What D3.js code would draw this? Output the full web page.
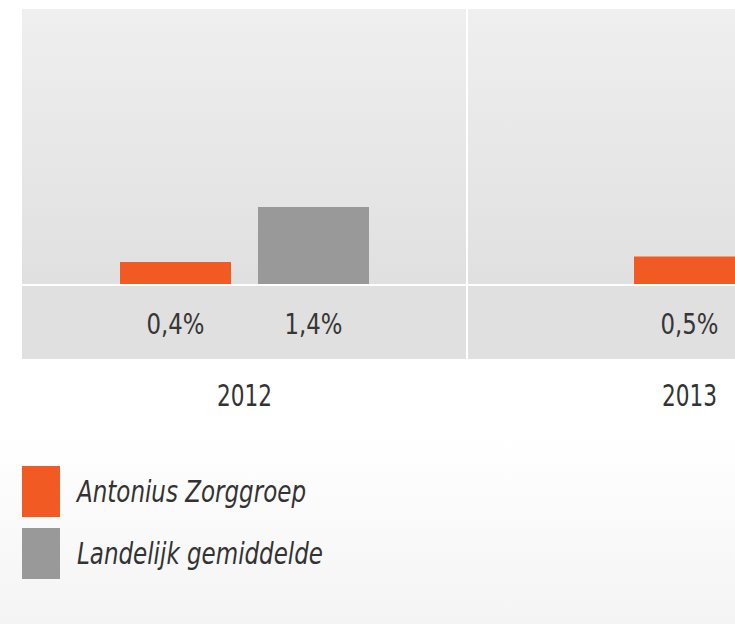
<!DOCTYPE html>
<html>
<head>
<meta charset="utf-8">
<script src="https://cdn.jsdelivr.net/npm/d3@7"></script>
<style>
  html, body { margin: 0; padding: 0; }
  body { width: 735px; height: 624px; overflow: hidden; background: #fff; }
  svg { display: block; }
</style>
</head>
<body>
<svg id="chart" width="735" height="624"></svg>
<script>
// ---- data ----
const years = ["2012", "2013"];
const seriesNames = ["Antonius Zorggroep", "Landelijk gemiddelde"];
const seriesColors = ["#f15a22", "#999999"];
const antonius = [0.4, 0.5];
const landelijk = [1.4, null];
const yDomain = [0, 5];

const seriesValues = [antonius, landelijk];
const fmt = v => d3.format(".1f")(v).replace(".", ",") + "%";

const svg = d3.select("#chart");
const defs = svg.append("defs");

// page background gradient
const pg = defs.append("linearGradient").attr("id", "pageGrad").attr("x1", 0).attr("y1", 0).attr("x2", 0).attr("y2", 1);
pg.append("stop").attr("offset", "0.7").attr("stop-color", "#ffffff");
pg.append("stop").attr("offset", "1").attr("stop-color", "#f4f4f4");
svg.append("rect").attr("width", 735).attr("height", 624).attr("fill", "url(#pageGrad)");

// panel gradient
const gg = defs.append("linearGradient").attr("id", "panelGrad").attr("x1", 0).attr("y1", 0).attr("x2", 0).attr("y2", 1);
gg.append("stop").attr("offset", "0").attr("stop-color", "#efefef");
gg.append("stop").attr("offset", "1").attr("stop-color", "#e0e0e0");

const x = d3.scaleBand().domain(years).range([22, 912]).padding(0);
const y = d3.scaleLinear().domain(yDomain).range([284, 9]);

const plotTop = y(yDomain[1]);
const baseY = y(0);
const bandTop = baseY + 2;
const bandBottom = 359;

// plot panel
svg.append("rect").attr("x", x.range()[0]).attr("y", plotTop)
  .attr("width", x.range()[1] - x.range()[0]).attr("height", baseY - plotTop)
  .attr("fill", "url(#panelGrad)");
// label band
svg.append("rect").attr("x", x.range()[0]).attr("y", bandTop)
  .attr("width", x.range()[1] - x.range()[0]).attr("height", bandBottom - bandTop)
  .attr("fill", "#e0e0e0");

// group dividers
svg.selectAll("line.div").data(years.slice(1)).join("line").attr("class", "div")
  .attr("x1", d => x(d)).attr("x2", d => x(d))
  .attr("y1", plotTop).attr("y2", bandBottom)
  .attr("stroke", "#ffffff").attr("stroke-width", 2);

// bars
const barW = 111, gap = 27;
years.forEach((yr, i) => {
  const present = seriesNames.map((s, k) => ({ s, k, v: seriesValues[k][i] })).filter(d => d.v != null);
  const n = present.length;
  const total = n * barW + (n - 1) * gap;
  const c = x(yr) + x.bandwidth() / 2;
  const inner = d3.scaleBand().domain(present.map(d => d.s))
    .range([c - total / 2, c + total / 2])
    .paddingInner(n > 1 ? gap / (barW + gap) : 0).paddingOuter(0);
  const g = svg.append("g");
  g.selectAll("rect").data(present).join("rect")
    .attr("x", d => inner(d.s)).attr("width", inner.bandwidth())
    .attr("y", d => y(d.v)).attr("height", d => baseY - y(d.v))
    .attr("fill", d => seriesColors[d.k]);
  g.selectAll("text").data(present).join("text")
    .attr("x", d => inner(d.s) + inner.bandwidth() / 2)
    .attr("y", 334)
    .attr("text-anchor", "middle")
    .attr("font-family", "DejaVu Sans")
    .attr("font-size", 29)
    .attr("fill", "#363636")
    .attr("textLength", 58).attr("lengthAdjust", "spacingAndGlyphs")
    .text(d => fmt(d.v));
});

// baseline white line
svg.append("line").attr("x1", x.range()[0]).attr("x2", x.range()[1])
  .attr("y1", baseY + 1).attr("y2", baseY + 1)
  .attr("stroke", "#ffffff").attr("stroke-width", 2);

// year labels
svg.selectAll("text.year").data(years).join("text").attr("class", "year")
  .attr("x", d => x(d) + x.bandwidth() / 2)
  .attr("y", 406)
  .attr("text-anchor", "middle")
  .attr("font-family", "DejaVu Sans")
  .attr("font-size", 30)
  .attr("fill", "#333333")
  .attr("textLength", 55).attr("lengthAdjust", "spacingAndGlyphs")
  .text(d => d);

// legend
const legendW = [229, 246];
const leg = svg.append("g");
seriesNames.forEach((s, k) => {
  const top = 466 + k * 62;
  leg.append("rect").attr("x", 22).attr("y", top).attr("width", 38).attr("height", 51)
    .attr("fill", seriesColors[k]);
  leg.append("text").attr("x", 77).attr("y", top + 36)
    .attr("font-family", "DejaVu Sans").attr("font-style", "italic")
    .attr("font-size", 30).attr("fill", "#333333")
    .attr("textLength", legendW[k]).attr("lengthAdjust", "spacingAndGlyphs")
    .text(s);
});
</script>
</body>
</html>
